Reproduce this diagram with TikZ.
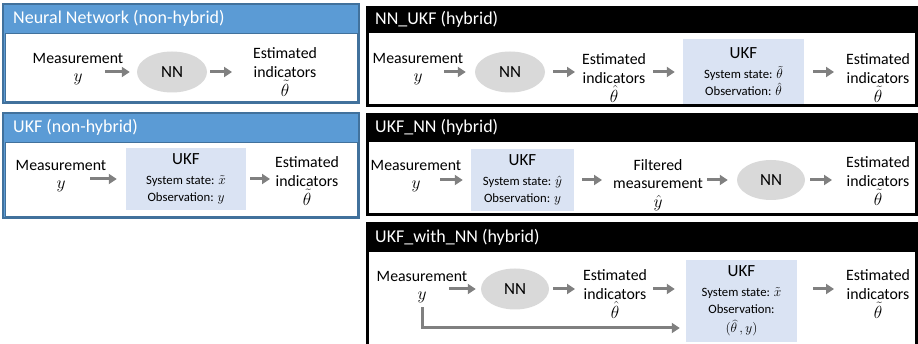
\RequirePackage{fix-cm}
\documentclass[tikz,border=0pt]{standalone}
\usepackage{fontspec}
\setmainfont{Carlito}
\usetikzlibrary{arrows.meta,shapes.geometric,calc}
\definecolor{hdblue}{HTML}{5B9BD5}
\definecolor{edblue}{HTML}{41719C}
\definecolor{ukfblue}{HTML}{DAE3F3}
\definecolor{nngray}{HTML}{D9D9D9}
\definecolor{arrgray}{HTML}{808080}
\newcommand{\ukfsize}{\fontsize{17}{19}\selectfont}
\DeclareMathSizes{15.8}{17.5}{12}{9}
\DeclareMathSizes{12.7}{13.5}{10}{8}

\begin{document}
\begin{tikzpicture}[x=1pt,y=-1pt,
    flow/.style={draw=arrgray,line width=3pt,-{Triangle[length=8pt,width=10pt]}},
    lbl/.style={align=center,inner sep=0pt,font=\fontsize{15.8}{18.7}\selectfont},
    title/.style={anchor=west,inner sep=0pt,text=white,font=\fontsize{18}{20}\selectfont},
    nn/.style={ellipse,fill=nngray,inner sep=0pt,minimum width=70pt,minimum height=41pt,font=\fontsize{17}{20}\selectfont},
    ukf/.style={fill=ukfblue,align=center,inner sep=0pt,font=\fontsize{12.7}{17}\selectfont}]
  \useasboundingbox (0,0) rectangle (918,344);

  % non-hybrid panels
  \draw[edblue,line width=2pt,fill=hdblue] (3,4) rectangle (359,103);
  \draw[edblue,line width=0.8pt,fill=white] (5,33) rectangle (357,101);
  \node[title] (t1) at (13,18.5) {Neural Network (non-hybrid)};
  \draw[edblue,line width=2pt,fill=hdblue] (3,113) rectangle (359,218);
  \draw[edblue,line width=0.8pt,fill=white] (5,142) rectangle (357,216);
  \node[title] (t2) at (13,127.5) {UKF (non-hybrid)};

  % hybrid panels
  \fill (366,6) rectangle (918,107);
  \fill[white] (369,33) rectangle (915,104);
  \node[title] (t3) at (375,19.5) {NN\_UKF (hybrid)};
  \fill (366,113) rectangle (918,216);
  \fill[white] (369,142) rectangle (915,213);
  \node[title] (t4) at (375,127.5) {UKF\_NN (hybrid)};
  \fill (366,222) rectangle (918,350);
  \fill[white] (369,252) rectangle (915,350);
  \node[title] (t5) at (375,237) {UKF\_with\_NN (hybrid)};

  % Neural Network
  \node[lbl] (meas1) at (78,69) {Measurement\\$y$};
  \node[nn] (nn1) at (172,72) {NN};
  \node[lbl] (est1) at (285,72) {Estimated\\indicators\\$\tilde{\theta}$};
  \draw[flow,shorten <=27pt,shorten >=7pt] (meas1 |- nn1) -- (nn1);
  \draw[flow,shorten <=3pt,shorten >=53pt] (nn1) -- (est1 |- nn1);

  % UKF
  \node[lbl] (meas2) at (61,176) {Measurement\\$y$};
  \node[ukf,minimum width=120pt,minimum height=62pt] (ukf2) at (186,179)
    {{\ukfsize UKF}\\[3pt]System state: $\tilde{x}$\\Observation: $y$};
  \node[lbl] (est2) at (307,181) {Estimated\\indicators\\$\tilde{\theta}$};
  \draw[flow,shorten <=29pt,shorten >=9pt] (meas2 |- ukf2) -- (ukf2);
  \draw[flow,shorten <=4pt,shorten >=37pt] (ukf2) -- (est2 |- ukf2);

  % NN_UKF
  \node[lbl] (meas3) at (418,69) {Measurement\\$y$};
  \node[nn] (nn3) at (510,72) {NN};
  \node[lbl] (est3) at (614,78) {Estimated\\indicators\\$\hat{\theta}$};
  \node[ukf,minimum width=121pt,minimum height=65pt] (ukf3) at (743.5,72)
    {{\ukfsize UKF}\\[3pt]System state: $\tilde{\theta}$\\Observation: $\hat{\theta}$};
  \node[lbl] (est3b) at (878,78) {Estimated\\indicators\\$\tilde{\theta}$};
  \draw[flow,shorten <=26pt,shorten >=9pt] (meas3 |- nn3) -- (nn3);
  \draw[flow,shorten <=8pt,shorten >=39pt] (nn3) -- (est3 |- nn3);
  \draw[flow,shorten <=39pt,shorten >=8pt] (est3 |- ukf3) -- (ukf3);
  \draw[flow,shorten <=9pt,shorten >=44pt] (ukf3) -- (est3b |- ukf3);

  % UKF_NN
  \node[lbl] (meas4) at (416,176) {Measurement\\$y$};
  \node[ukf,minimum width=103pt,minimum height=62pt] (ukf4) at (522.5,180)
    {{\ukfsize UKF}\\[3pt]System state: $\hat{y}$\\Observation: $y$};
  \node[lbl] (fil4) at (658,185) {Filtered\\measurement\\$\hat{y}$};
  \node[nn,minimum width=68pt,minimum height=40pt] (nn4) at (771,180) {NN};
  \node[lbl] (est4) at (878,181) {Estimated\\indicators\\$\tilde{\theta}$};
  \draw[flow,shorten <=24pt,shorten >=8pt] (meas4 |- ukf4) -- (ukf4);
  \draw[flow,shorten <=8pt,shorten >=56pt] (ukf4) -- (fil4 |- ukf4);
  \draw[flow,shorten <=49pt,shorten >=9pt] (fil4 |- nn4) -- (nn4);
  \draw[flow,shorten <=5pt,shorten >=46pt] (nn4) -- (est4 |- nn4);

  % UKF_with_NN
  \node[lbl] (meas5) at (422,287) {Measurement\\$y$};
  \node[nn,minimum width=68pt] (nn5) at (515,289) {NN};
  \node[lbl] (est5) at (615,294) {Estimated\\indicators\\$\hat{\theta}$};
  \node[ukf,minimum width=111pt,minimum height=82pt] (ukf5) at (741.5,301)
    {{\ukfsize UKF}\\[3pt]System state: $\tilde{x}$\\Observation:\\[2pt]$(\widehat{\theta}\,,y)$};
  \node[lbl] (est5b) at (878,294) {Estimated\\indicators\\$\tilde{\theta}$};
  \draw[flow,shorten <=27pt,shorten >=5pt] (meas5 |- nn5) -- (nn5);
  \draw[flow,shorten <=4pt,shorten >=40pt] (nn5) -- (est5 |- nn5);
  \draw[flow,shorten <=38pt,shorten >=11pt] (est5 |- nn5) -- (nn5 -| ukf5.west);
  \draw[flow,shorten <=16pt,shorten >=44pt] (nn5 -| ukf5.east) -- (est5b |- nn5);
  \draw[flow,shorten <=4pt,shorten >=6pt] (meas5.south) |- ($(ukf5.west)+(0,27)$);
\end{tikzpicture}
\end{document}
